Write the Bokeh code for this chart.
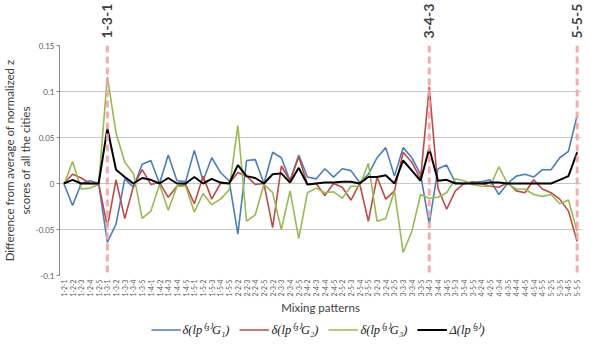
import math
from bokeh.plotting import figure
from bokeh.layouts import column
from bokeh.models import (Range1d, FixedTicker, CustomJSTickFormatter, LinearAxis,
                          Span, Legend, LegendItem)
from bokeh.embed import file_html
from bokeh.resources import INLINE

patterns = [
    "1-2-1", "1-2-2", "1-2-3", "1-2-4", "1-2-5", "1-3-1", "1-3-2", "1-3-3", "1-3-4", "1-3-5",
    "1-4-1", "1-4-2", "1-4-3", "1-4-4", "1-4-5", "1-5-1", "1-5-2", "1-5-3", "1-5-4", "1-5-5",
    "2-2-2", "2-2-3", "2-2-4", "2-2-5", "2-3-2", "2-3-3", "2-3-4", "2-3-5",
    "2-4-2", "2-4-3", "2-4-4", "2-4-5", "2-5-2", "2-5-3", "2-5-4", "2-5-5",
    "3-2-3", "3-2-4", "3-2-5", "3-3-3", "3-3-4", "3-3-5", "3-4-3", "3-4-4", "3-4-5",
    "3-5-3", "3-5-4", "3-5-5",
    "4-2-4", "4-2-5", "4-3-4", "4-3-5", "4-4-4", "4-4-5", "4-5-4", "4-5-5",
    "5-2-5", "5-3-5", "5-4-5", "5-5-5",
]

g1 = [0, -0.024, 0, 0.003, 0, -0.064, -0.044, 0.005, -0.004, 0.021,
      0.025, 0, 0.031, 0.003, 0.002, 0.036, 0.003, 0.028, 0.012, 0.003,
      -0.055, 0.025, 0.026, 0, 0.034, 0.028, 0.003, 0.031, 0.007, 0.005,
      0.016, 0.007, 0.016, 0.014, 0.001, 0.010, 0.028, 0.039, 0.008, 0.039,
      0.028, 0.010, -0.044, 0.016, 0.020, 0.001, 0, 0.001, 0.002, 0.004,
      -0.012, 0, 0.008, 0.010, 0.007, 0.015, 0.015, 0.028, 0.035, 0.074]

g2 = [0, 0.010, 0.006, 0, 0, -0.047, 0.004, -0.038, -0.003, 0.015,
      -0.001, 0.001, -0.015, -0.003, -0.001, -0.022, 0.008, -0.017, 0, 0,
      0.012, 0.008, -0.001, 0, -0.048, 0.019, 0.003, 0.029, -0.001, 0,
      -0.013, 0, -0.004, -0.018, 0, -0.041, 0.007, -0.017, -0.008, 0.034,
      0.023, 0.005, 0.105, -0.005, -0.028, -0.008, 0, 0.002, 0, -0.003,
      -0.004, 0.001, -0.008, -0.010, 0.004, -0.006, -0.010, -0.017, -0.030, -0.063]

g3 = [-0.002, 0.024, -0.006, -0.005, -0.001, 0.116, 0.055, 0.023, 0.011, -0.038,
      -0.030, -0.001, -0.029, -0.003, -0.003, -0.031, -0.011, -0.023, -0.017, -0.007,
      0.063, -0.041, -0.034, -0.001, -0.010, -0.050, -0.008, -0.060, -0.010, -0.005,
      -0.010, -0.009, -0.016, -0.003, -0.003, 0.022, -0.041, -0.038, -0.008, -0.075,
      -0.052, -0.012, -0.016, -0.015, -0.010, 0.005, 0.003, -0.001, -0.003, -0.003,
      0.018, 0, -0.006, -0.006, -0.012, -0.014, -0.012, -0.022, -0.018, -0.052]

delta = [0, 0.004, 0, 0, 0, 0.060, 0.015, 0.007, 0, 0.006,
         0.004, 0, 0.006, 0, 0, 0.007, 0, 0.005, 0.001, 0,
         0.020, 0.008, 0.006, 0, 0.010, 0.011, 0.001, 0.017, -0.001, 0,
         0.001, 0.001, 0.002, 0.002, 0, 0.007, 0.007, 0.009, 0, 0.025,
         0.014, 0.003, 0.038, 0.003, 0.004, 0, 0, 0, 0, 0.001,
         0.001, 0, 0, 0, 0, 0, 0, 0.004, 0.008, 0.034]

highlighted = ["1-3-1", "3-4-3", "5-5-5"]
y_ticks = [-0.1, -0.05, 0, 0.05, 0.1, 0.15]

series_labels = ["δ(lp⁽³⁾G₁)", "δ(lp⁽³⁾G₂)", "δ(lp⁽³⁾G₃)", "Δ(lp⁽³⁾)"]
series_colors = ["#4A7EBB", "#BE4B48", "#98B954", "#000000"]
series_widths = [1.6, 1.6, 1.6, 2.0]
series_values = [g1, g2, g3, delta]

xs = list(range(len(patterns)))

p = figure(frame_width=522, frame_height=230, output_backend="svg", toolbar_location=None,
           x_range=Range1d(-0.5, len(patterns) - 0.5), y_range=Range1d(y_ticks[0], y_ticks[-1]),
           min_border_left=54, min_border_right=4, min_border_top=44, min_border_bottom=0)
p.outline_line_color = None
p.background_fill_color = "white"
p.xgrid.visible = False
p.ygrid.grid_line_color = "#C8C8C8"
p.ygrid.grid_line_width = 1

# y axis
p.yaxis.ticker = FixedTicker(ticks=y_ticks, minor_ticks=[])
p.yaxis.formatter = CustomJSTickFormatter(code="return String(Math.round(tick*100)/100);")
p.yaxis.axis_line_color = "#868686"
p.yaxis.major_tick_line_color = "#868686"
p.yaxis.major_tick_out = 3
p.yaxis.major_tick_in = 0
p.yaxis.minor_tick_line_color = None
p.yaxis.major_label_text_font = "Lato"
p.yaxis.major_label_text_font_size = "8px"
p.yaxis.major_label_text_color = "#595959"
p.yaxis.major_label_standoff = 2
p.yaxis.axis_label = "Difference from average of normalized z\nscores of all the cities"
p.yaxis.axis_label_text_font = "Lato"
p.yaxis.axis_label_text_font_size = "11.5px"
p.yaxis.axis_label_text_font_style = "normal"
p.yaxis.axis_label_text_color = "#404040"
p.yaxis.axis_label_standoff = 1

# x axis
p.xaxis.ticker = FixedTicker(ticks=xs, minor_ticks=[])
p.xaxis.formatter = CustomJSTickFormatter(args=dict(labels=patterns),
                                          code="return labels[Math.round(tick)] || '';")
p.xaxis.major_label_orientation = math.pi / 2
p.xaxis.axis_line_color = None
p.xaxis.major_tick_line_color = None
p.xaxis.minor_tick_line_color = None
p.xaxis.major_tick_out = 0
p.xaxis.major_tick_in = 0
p.xaxis.major_label_text_font = "Lato"
p.xaxis.major_label_text_font_size = "6.8px"
p.xaxis.major_label_text_color = "#595959"
p.xaxis.major_label_standoff = 4
p.xaxis.axis_label = "Mixing patterns"
p.xaxis.axis_label_text_font = "Lato"
p.xaxis.axis_label_text_font_size = "11.5px"
p.xaxis.axis_label_text_font_style = "normal"
p.xaxis.axis_label_text_color = "#404040"
p.xaxis.axis_label_standoff = 2

# highlighted patterns: dashed lines and labels on top axis
hi_idx = [patterns.index(h) for h in highlighted]
for i in hi_idx:
    p.add_layout(Span(location=i, dimension="height", line_color="#F4A3A3",
                      line_width=3, line_dash="7 4", line_alpha=0.9))

top = LinearAxis(ticker=FixedTicker(ticks=hi_idx, minor_ticks=[]),
                 formatter=CustomJSTickFormatter(args=dict(labels=patterns),
                                                 code="return labels[Math.round(tick)] || '';"))
top.major_label_orientation = math.pi / 2
top.axis_line_color = None
top.major_tick_line_color = None
top.minor_tick_line_color = None
top.major_tick_out = 0
top.major_tick_in = 0
top.major_label_text_font = "Lato"
top.major_label_text_font_size = "14px"
top.major_label_text_font_style = "bold"
top.major_label_text_color = "#404040"
top.major_label_standoff = 7
p.add_layout(top, "above")

for ys, c, w in zip(series_values, series_colors, series_widths):
    p.line(xs, ys, line_color=c, line_width=w)

# legend strip (separate small figure; its lines lie outside its visible range)
lf = figure(width=580, height=24, output_backend="svg", toolbar_location=None,
            x_range=Range1d(-0.5, len(patterns) - 0.5), y_range=Range1d(10, 11),
            x_axis_type=None, y_axis_type=None,
            min_border_left=0, min_border_right=0, min_border_top=0, min_border_bottom=0)
lf.outline_line_color = None
lf.xgrid.visible = False
lf.ygrid.visible = False
leg_renderers = [lf.line(xs, ys, line_color=c, line_width=w)
                 for ys, c, w in zip(series_values, series_colors, series_widths)]

legend = Legend(items=[LegendItem(label=lab, renderers=[r]) for lab, r in zip(series_labels, leg_renderers)],
                orientation="horizontal", location="center")
legend.label_text_font = "Liberation Serif"
legend.label_text_font_style = "italic"
legend.label_text_font_size = "12.5px"
legend.label_text_color = "#202020"
legend.glyph_width = 30
legend.glyph_height = 10
legend.label_height = 10
legend.label_standoff = 2
legend.spacing = 10
legend.padding = 0
legend.margin = 0
legend.border_line_color = None
legend.background_fill_alpha = 0
lf.add_layout(legend)

layout = column(p, lf, spacing=0)

open("out.html", "w").write(file_html(layout, INLINE))
